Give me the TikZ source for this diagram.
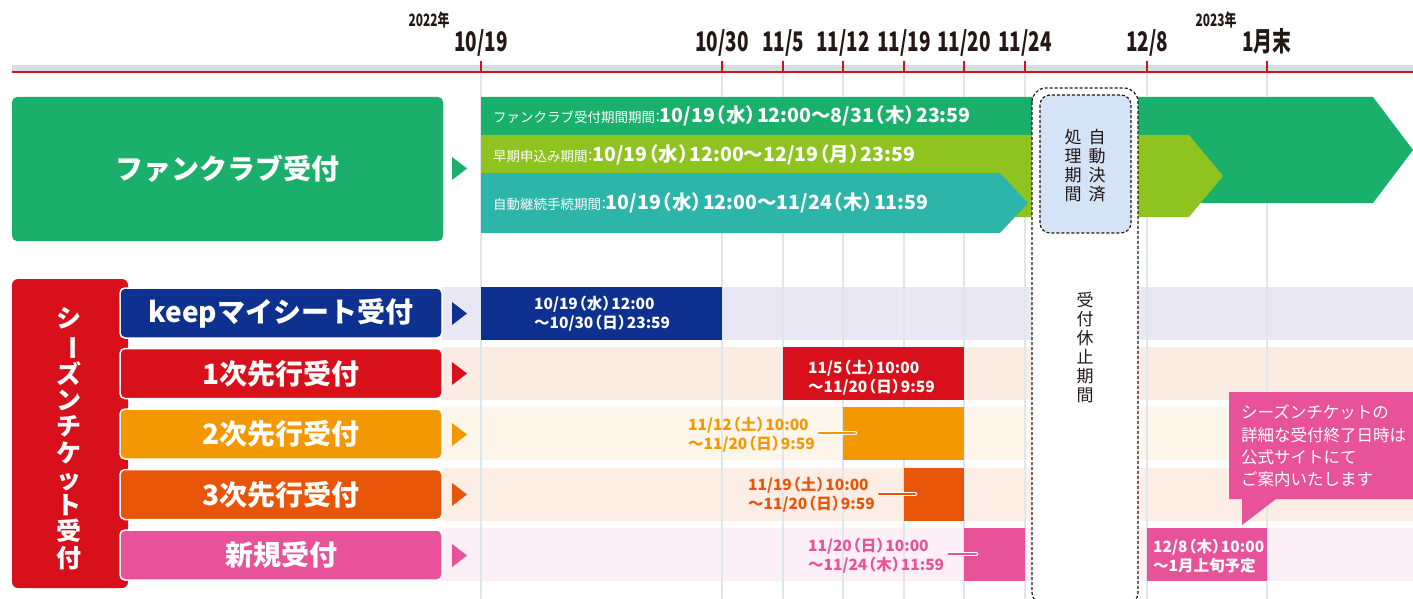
\documentclass[tikz,border=0pt]{standalone}
\usepackage{fontspec}
\usepackage{graphicx}
\setmainfont{Noto Sans CJK JP}
\newfontfamily\condf[FakeStretch=0.7]{Noto Sans CJK JP}
\newcommand\pk[1]{\kern-0.42em（#1）\kern-0.42em}
\newcommand\cln{\kern-0.3em：\kern-0.35em}
\definecolor{fcgreen}{HTML}{1AAF6A}
\definecolor{limebar}{HTML}{8FC31F}
\definecolor{tealbar}{HTML}{2EB5AA}
\definecolor{navybar}{HTML}{0E318F}
\definecolor{redbar}{HTML}{D7101B}
\definecolor{orangebar}{HTML}{F39800}
\definecolor{dorange}{HTML}{E95508}
\definecolor{pinkbar}{HTML}{E85298}
\definecolor{bandA}{HTML}{E9E7F4}
\definecolor{bandB}{HTML}{FBECE3}
\definecolor{bandC}{HTML}{FEF6EA}
\definecolor{bandD}{HTML}{FCEEE4}
\definecolor{bandE}{HTML}{FCEFF6}
\definecolor{gridc}{HTML}{DDE8EC}
\definecolor{axisband}{HTML}{D3DFE3}
\definecolor{ink}{HTML}{231815}
\definecolor{procblue}{HTML}{D4E3F5}
\begin{document}
\begin{tikzpicture}[x=1pt,y=-1pt,
  datelbl/.style={anchor=base, inner sep=0, text=ink, font=\condf\fontsize{27}{27}\selectfont\bfseries},
  yearlbl/.style={anchor=base, inner sep=0, text=ink, font=\condf\fontsize{17}{17}\selectfont\bfseries},
  rowbox/.style={draw=white, line width=1.5, rounded corners=5, minimum width=322, minimum height=50, inner sep=0,
     text=white, font=\fontsize{28}{28}\selectfont\bfseries},
  solidbar/.style={inner sep=0, minimum height=53, anchor=west},
  dtxt/.style={anchor=west, align=left, inner sep=0, font=\fontsize{15.5}{19}\selectfont\bfseries},
  fctxt/.style={anchor=west, inner sep=0, text=white},
  conn/.style={line width=2, line cap=round, preaction={draw=white, line width=4.5, line cap=round}},
  dashbox/.style={draw=ink, line width=1.2, dash pattern=on 3pt off 2pt}
]
\useasboundingbox (0,0) rectangle (1413,599);
\fill[white] (0,0) rectangle (1413,599);

% axis
\fill[axisband] (12,65) rectangle (1413,72);
\draw[redbar, line width=2] (12,72) -- (1413,72);
\foreach \xx in {481,722,783,843,904,964,1025,1147,1267}{
  \draw[redbar, line width=1.6] (\xx,61) -- (\xx,72);
}
\node[yearlbl] (y22) at (429,27) {2022年};
\node[yearlbl] (y23) at (1216,27) {2023年};
\node[datelbl] (d1) at (481,52) {10/19};
\node[datelbl] (d2) at (722,52) {10/30};
\node[datelbl] (d3) at (783,52) {11/5};
\node[datelbl] (d4) at (843,52) {11/12};
\node[datelbl] (d5) at (904,52) {11/19};
\node[datelbl] (d6) at (964,52) {11/20};
\node[datelbl] (d7) at (1025,52) {11/24};
\node[datelbl] (d8) at (1147,52) {12/8};
\node[datelbl] (d9) at (1267,52) {1月末};

% row bands
\fill[bandA] (442,287) rectangle (1413,340);
\fill[bandB] (442,347) rectangle (1413,400);
\fill[bandC] (442,407) rectangle (1413,460);
\fill[bandD] (442,468) rectangle (1413,521);
\fill[bandE] (442,528) rectangle (1413,581);

% grid lines
\foreach \xx in {481,722,783,843,904,964,1025,1147,1267}{
  \draw[gridc, line width=1.2] (\xx,74) -- (\xx,599);
}

% fan club bars
\fill[fcgreen] (481,97) -- (1373,97) -- (1413,150) -- (1373,203) -- (481,203) -- cycle;
\fill[limebar] (481,135) -- (1189,135) -- (1223,176) -- (1189,217) -- (481,217) -- cycle;
\fill[tealbar] (481,173) -- (1000,173) -- (1028,203) -- (1000,233) -- (481,233) -- cycle;
\node[fctxt] (fc1) at (493,116) {\fontsize{13.5}{13}\selectfont ファンクラブ受付期間期間\cln\fontsize{19.5}{19}\selectfont\bfseries 10/19\pk{水}12:00～8/31\pk{木}23:59};
\node[fctxt] (fc2) at (493,155) {\fontsize{13.5}{13}\selectfont 早期申込み期間\cln\fontsize{19.5}{19}\selectfont\bfseries 10/19\pk{水}12:00～12/19\pk{月}23:59};
\node[fctxt] (fc3) at (493,203) {\fontsize{13.5}{13}\selectfont 自動継続手続期間\cln\fontsize{19.5}{19}\selectfont\bfseries 10/19\pk{水}12:00～11/24\pk{木}11:59};

% pause box
\draw[dashbox, fill=white, rounded corners=14] (1032,88) rectangle (1138,606);
\draw[dashbox, fill=procblue, rounded corners=10] (1040,95) rectangle (1131,233);
\node[inner sep=0, align=center, text=ink, font=\fontsize{17}{19}\selectfont] (ap1) at (1097,166) {自\\動\\決\\済};
\node[inner sep=0, align=center, text=ink, font=\fontsize{17}{19}\selectfont] (ap2) at (1073,166) {処\\理\\期\\間};
\node[inner sep=0, align=center, text=ink, font=\fontsize{17}{19}\selectfont] (stop) at (1085,348) {受\\付\\休\\止\\期\\間};

% fan club label
\node[fill=fcgreen, rounded corners=5, minimum width=431, minimum height=144, inner sep=0,
  text=white, font=\fontsize{28}{28}\selectfont\bfseries] (fc) at (227.5,169) {ファンクラブ受付};
\fill[fcgreen] (452,157) -- (467,168.5) -- (452,180) -- cycle;

% season ticket label
\node[fill=redbar, rounded corners=6, minimum width=116, minimum height=309, inner sep=0] (st) at (70,433.5) {};
\node[inner sep=0, align=center, text=white, font=\fontsize{25}{26.3}\selectfont\bfseries] (stv) at (69,438.5)
  {シ\\\rotatebox[origin=c]{-90}{ー}\\ズ\\ン\\チ\\ケ\\ッ\\ト\\受\\付};

\node[rowbox, fill=navybar] (r1) at (281,313) {keepマイシート受付};
\node[rowbox, fill=redbar] (r2) at (281,373.5) {1次先行受付};
\node[rowbox, fill=orangebar] (r3) at (281,434) {2次先行受付};
\node[rowbox, fill=dorange] (r4) at (281,494.5) {3次先行受付};
\node[rowbox, fill=pinkbar] (r5) at (281,555) {新規受付};
\fill[navybar] (452,302) -- (467,313.5) -- (452,325) -- cycle;
\fill[redbar] (452,362) -- (467,373.5) -- (452,385) -- cycle;
\fill[orangebar] (452,423) -- (467,434.5) -- (452,446) -- cycle;
\fill[dorange] (452,483) -- (467,494.5) -- (452,506) -- cycle;
\fill[pinkbar] (452,544) -- (467,555.5) -- (452,567) -- cycle;

% solid bars
\node[solidbar, fill=navybar, minimum width=241] (b1) at (481,313.5) {};
\node[solidbar, fill=redbar, minimum width=181] (b2) at (783,373.5) {};
\node[solidbar, fill=orangebar, minimum width=121] (b3) at (843,433.5) {};
\node[solidbar, fill=dorange, minimum width=60] (b4) at (904,494.5) {};
\node[solidbar, fill=pinkbar, minimum width=61] (b5) at (964,554.5) {};
\node[solidbar, fill=pinkbar, minimum width=120] (b6) at (1147,554.5) {};

\node[dtxt, text=white] (t1) at (534,314) {10/19\pk{水}12:00\\～10/30\pk{日}23:59};
\node[dtxt, text=white] (t2) at (808,378) {11/5\pk{土}10:00\\～11/20\pk{日}9:59};
\node[dtxt, text=orangebar] (t3) at (688,435) {11/12\pk{土}10:00\\～11/20\pk{日}9:59};
\node[dtxt, text=dorange] (t4) at (748,495) {11/19\pk{土}10:00\\～11/20\pk{日}9:59};
\node[dtxt, text=pinkbar] (t5) at (808,556) {11/20\pk{日}10:00\\～11/24\pk{木}11:59};
\node[dtxt, text=white] (t6) at (1153,556) {12/8\pk{木}10:00\\～1月上旬予定};

\coordinate (c3) at (855,433);
\coordinate (c4) at (915,494);
\coordinate (c5) at (976,554);
\draw[conn, orangebar] (t3.east |- c3) ++(4,0) -- (c3);
\draw[conn, dorange] (t4.east |- c4) ++(4,0) -- (c4);
\draw[conn, pinkbar] (t5.east |- c5) ++(4,0) -- (c5);

% callout
\fill[pinkbar] (1229,392) -- (1413,392) -- (1413,499) -- (1276,499) -- (1242,525) -- (1242,499) -- (1229,499) -- cycle;
\node[anchor=west, align=left, inner sep=0, text=white, font=\fontsize{16.5}{22.3}\selectfont] (note) at (1241,446)
  {シーズンチケットの\\詳細な受付終了日時は\\公式サイトにて\\ご案内いたします};
\end{tikzpicture}
\end{document}
